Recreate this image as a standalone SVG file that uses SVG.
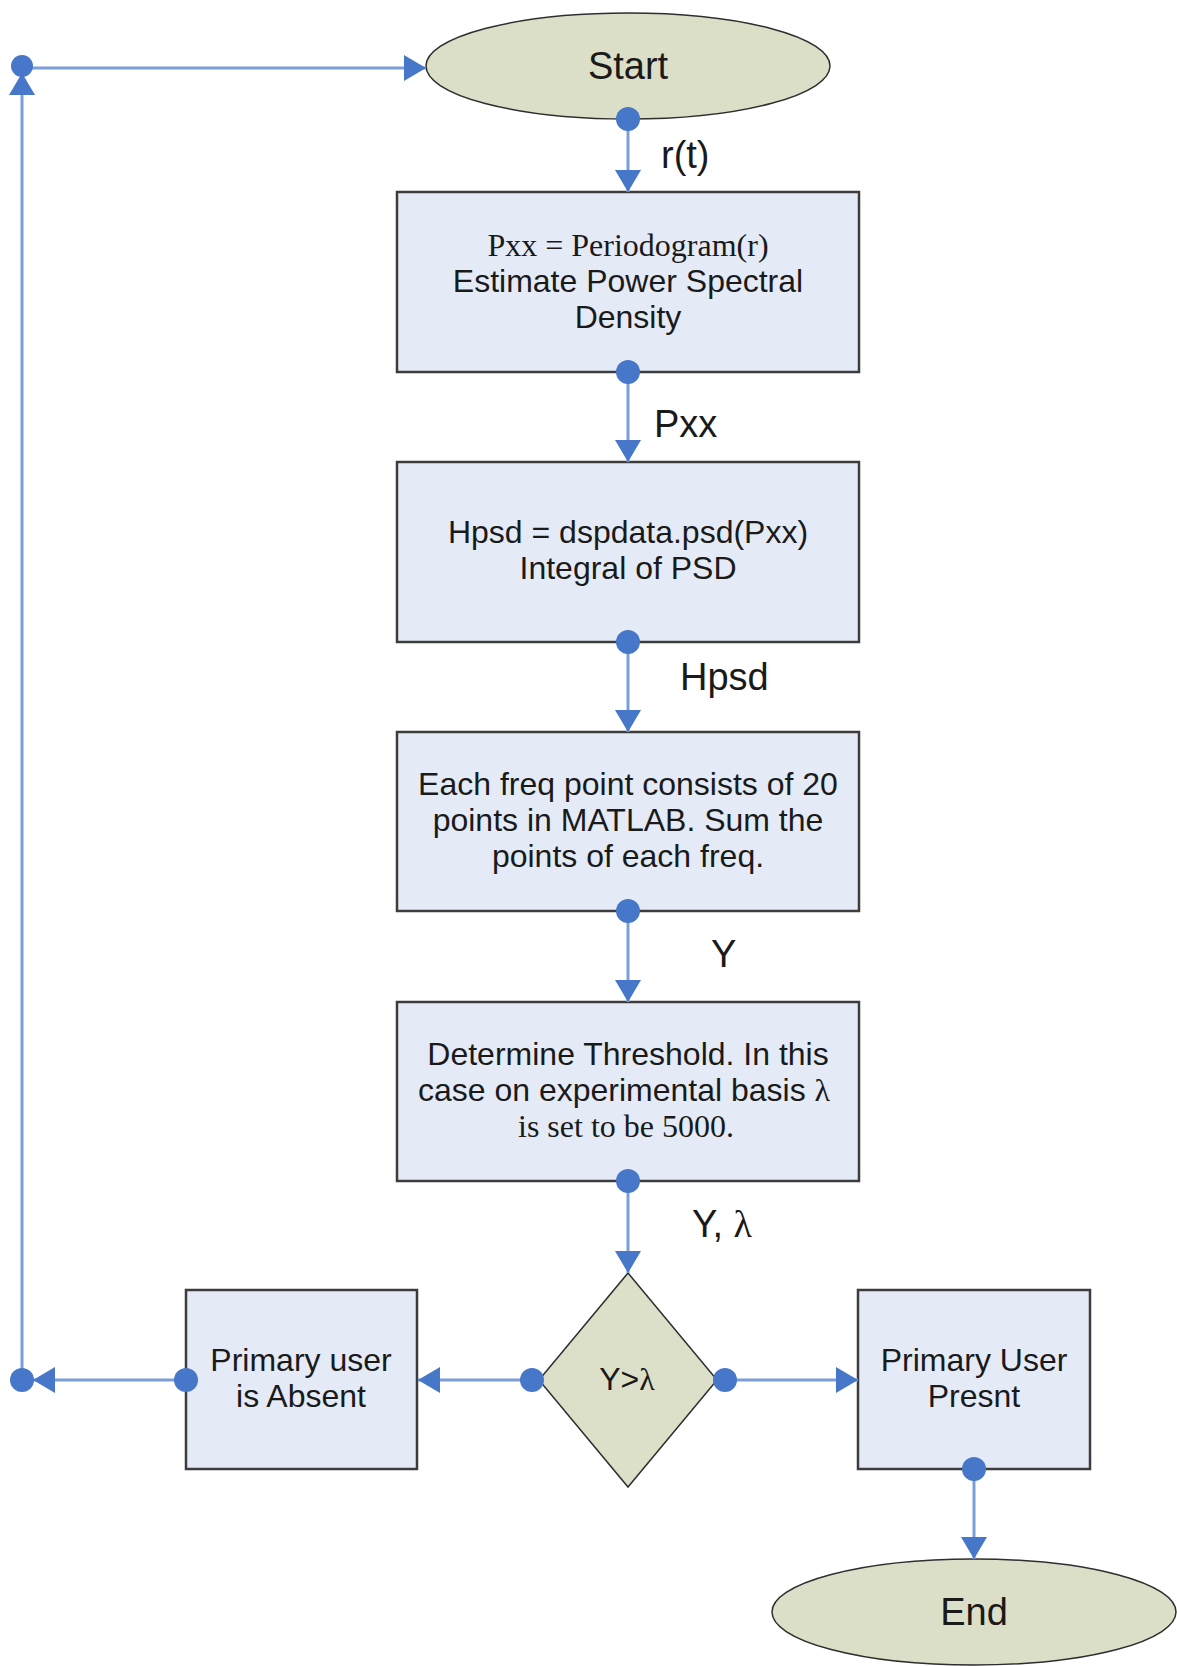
<svg xmlns="http://www.w3.org/2000/svg" width="1177" height="1666" viewBox="0 0 1177 1666">
  <defs>
    <marker id="arrow" markerUnits="userSpaceOnUse" markerWidth="24" markerHeight="28" refX="22" refY="13" orient="auto">
      <path d="M0,0 L22,13 L0,26 Z" fill="#4677C8"/>
    </marker>
  </defs>
  <style>
    .box { fill: #E4EBF7; stroke: #3C3C3C; stroke-width: 2.5; }
    .term { fill: #DCDFC8; stroke: #2E2E2E; stroke-width: 1.5; }
    .dec { fill: #DCE0C9; stroke: #2E2E2E; stroke-width: 1.5; }
    .wire { stroke: #7A9ED6; stroke-width: 3; fill: none; }
    .dot { fill: #4677C8; }
    .t { font-family: "Liberation Sans", Arial, sans-serif; font-size: 32px; fill: #1A1A1A; text-anchor: middle; }
    .big { font-size: 38px; }
    .s { font-family: "Liberation Serif", "Times New Roman", serif; font-size: 32px; fill: #1A1A1A; text-anchor: middle; }
    .lbl { font-family: "Liberation Sans", Arial, sans-serif; font-size: 38px; fill: #1A1A1A; }
  </style>
  <rect width="1177" height="1666" fill="#FFFFFF"/>

  <g id="start">
    <ellipse class="term" cx="628" cy="66" rx="202" ry="53"/>
    <text class="t big" x="628" y="79">Start</text>
  </g>

  <g id="periodogram">
    <rect class="box" x="397" y="192" width="462" height="180"/>
    <text class="s" x="628" y="256">Pxx = Periodogram(r)</text>
    <text class="t" x="628" y="292">Estimate Power Spectral</text>
    <text class="t" x="628" y="328">Density</text>
  </g>

  <g id="integral">
    <rect class="box" x="397" y="462" width="462" height="180"/>
    <text class="t" x="628" y="543">Hpsd = dspdata.psd(Pxx)</text>
    <text class="t" x="628" y="579">Integral of PSD</text>
  </g>

  <g id="sum">
    <rect class="box" x="397" y="732" width="462" height="179"/>
    <text class="t" x="628" y="795">Each freq point consists of 20</text>
    <text class="t" x="628" y="831">points in MATLAB. Sum the</text>
    <text class="t" x="628" y="867">points of each freq.</text>
  </g>

  <g id="threshold">
    <rect class="box" x="397" y="1002" width="462" height="179"/>
    <text class="t" x="628" y="1065">Determine Threshold. In this</text>
    <text class="t" x="624" y="1101">case on experimental basis <tspan font-family="Liberation Serif, serif">λ</tspan></text>
    <text class="s" x="626" y="1137">is set to be 5000.</text>
  </g>

  <g id="decision">
    <polygon class="dec" points="628,1273 717,1380 628,1487 539,1380"/>
    <text class="t" x="627" y="1390">Y&gt;<tspan font-family="Liberation Serif, serif">λ</tspan></text>
  </g>

  <g id="absent">
    <rect class="box" x="186" y="1290" width="231" height="179"/>
    <text class="t" x="301" y="1371">Primary user</text>
    <text class="t" x="301" y="1407">is Absent</text>
  </g>

  <g id="present">
    <rect class="box" x="858" y="1290" width="232" height="179"/>
    <text class="t" x="974" y="1371">Primary User</text>
    <text class="t" x="974" y="1407">Presnt</text>
  </g>

  <g id="end">
    <ellipse class="term" cx="974" cy="1612" rx="202" ry="53"/>
    <text class="t big" x="974" y="1625">End</text>
  </g>

  <!-- connectors, drawn last so the port dots sit on top of the shapes -->
  <g id="connectors">
    <line class="wire" x1="628" y1="120" x2="628" y2="192" marker-end="url(#arrow)"/>
    <line class="wire" x1="628" y1="372" x2="628" y2="462" marker-end="url(#arrow)"/>
    <line class="wire" x1="628" y1="642" x2="628" y2="732" marker-end="url(#arrow)"/>
    <line class="wire" x1="628" y1="911" x2="628" y2="1002" marker-end="url(#arrow)"/>
    <line class="wire" x1="628" y1="1181" x2="628" y2="1273" marker-end="url(#arrow)"/>
    <line class="wire" x1="532" y1="1380" x2="418" y2="1380" marker-end="url(#arrow)"/>
    <line class="wire" x1="725" y1="1380" x2="858" y2="1380" marker-end="url(#arrow)"/>
    <line class="wire" x1="974" y1="1469" x2="974" y2="1559" marker-end="url(#arrow)"/>
    <line class="wire" x1="186" y1="1380" x2="33" y2="1380" marker-end="url(#arrow)"/>
    <line class="wire" x1="22" y1="1380" x2="22" y2="73" marker-end="url(#arrow)"/>
    <line class="wire" x1="22" y1="68" x2="426" y2="68" marker-end="url(#arrow)"/>
    <circle class="dot" cx="628" cy="119" r="12"/>
    <circle class="dot" cx="628" cy="372" r="12"/>
    <circle class="dot" cx="628" cy="642" r="12"/>
    <circle class="dot" cx="628" cy="911" r="12"/>
    <circle class="dot" cx="628" cy="1181" r="12"/>
    <circle class="dot" cx="532" cy="1380" r="12"/>
    <circle class="dot" cx="725" cy="1380" r="12"/>
    <circle class="dot" cx="186" cy="1380" r="12"/>
    <circle class="dot" cx="974" cy="1469" r="12"/>
    <circle class="dot" cx="22" cy="1380" r="12"/>
    <circle class="dot" cx="22" cy="66" r="11"/>
    <text class="lbl" x="661" y="168">r(t)</text>
    <text class="lbl" x="654" y="437">Pxx</text>
    <text class="lbl" x="680" y="690">Hpsd</text>
    <text class="lbl" x="711" y="967">Y</text>
    <text class="lbl" x="692" y="1237">Y, <tspan font-family="Liberation Serif, serif">λ</tspan></text>
  </g>
</svg>
